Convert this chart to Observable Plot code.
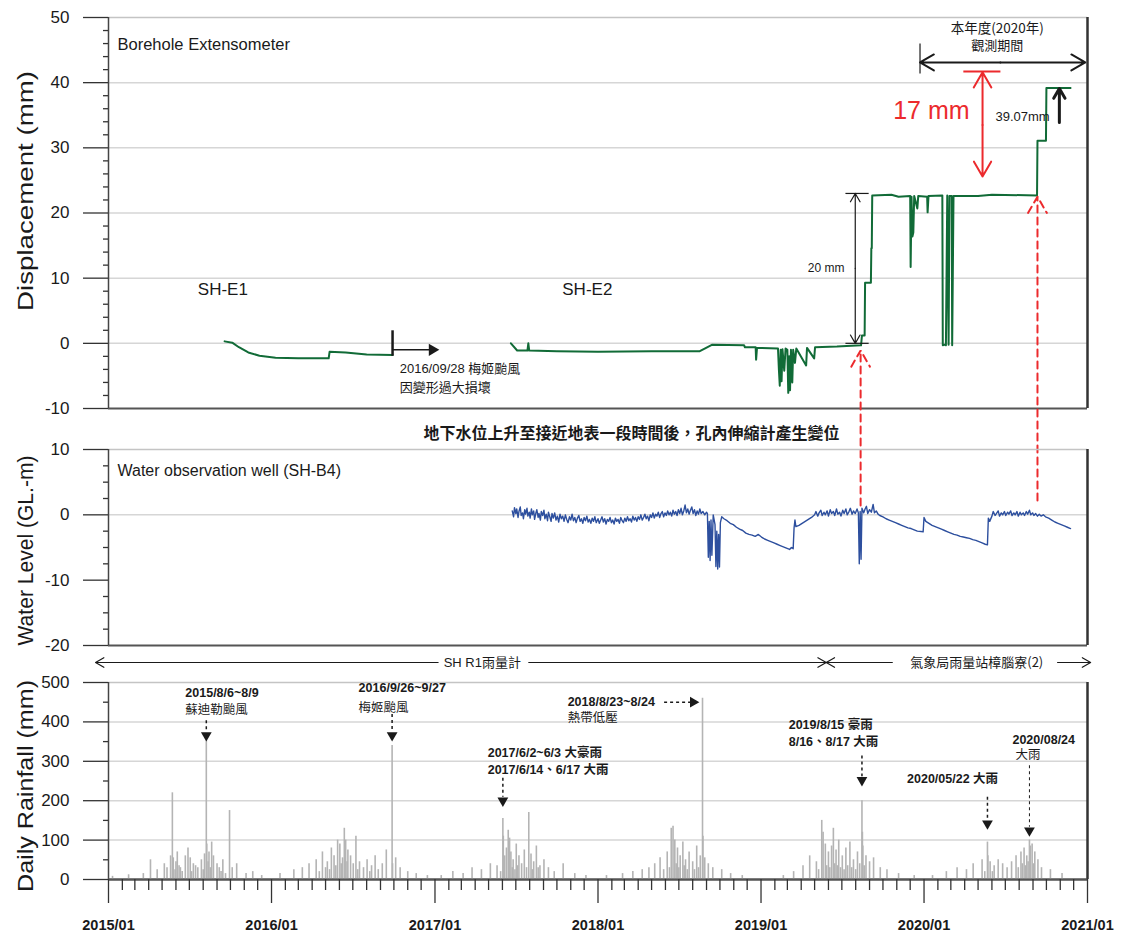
<!DOCTYPE html>
<html><head><meta charset="utf-8">
<script src="https://cdn.jsdelivr.net/npm/d3@7"></script>
<script src="https://cdn.jsdelivr.net/npm/@observablehq/plot@0.6"></script>
<style>
body{margin:0;background:#fff;}
#wrap{position:relative;width:1123px;height:940px;background:#fff;}
#wrap svg{position:absolute;left:0;top:0;}
</style></head><body><div id="wrap"></div>
<script>
// ---------------- DATA ----------------
// Borehole extensometer displacement (mm)
const dispE1 = [
 ["2015-09-18",0.3],["2015-10-05",0.1],["2015-10-20",-0.6],["2015-11-10",-1.4],["2015-12-05",-1.9],
 ["2016-01-10",-2.2],["2016-03-01",-2.3],["2016-05-08",-2.3],["2016-05-10",-1.3],["2016-06-15",-1.4],
 ["2016-08-01",-1.7],["2016-09-28",-1.8]
];
const dispE2 = [
 ["2017-06-20",0.0],["2017-07-04",-1.1],["2017-07-27",-1.1],["2017-07-29",0.0],["2017-07-31",-1.1],
 ["2017-10-01",-1.2],["2018-01-01",-1.3],["2018-05-01",-1.2],["2018-08-17",-1.2],["2018-09-14",-0.2],
 ["2018-11-24",-0.3],["2018-11-26",-0.6],["2018-12-20",-0.6],["2018-12-21",-2.5],["2018-12-23",-0.7],
 ["2019-02-08",-0.8],["2019-02-10",-4.0],["2019-02-12",-6.5],["2019-02-14",-1.0],["2019-02-16",-5.8],["2019-02-18",-0.9],
 ["2019-02-22",-4.2],["2019-02-25",-0.8],["2019-03-01",-1.0],["2019-03-03",-7.6],["2019-03-05",-2.0],["2019-03-07",-7.2],
 ["2019-03-09",-1.0],["2019-03-12",-6.0],["2019-03-14",-1.0],["2019-03-18",-3.0],["2019-03-21",-0.8],
 ["2019-04-12",-3.4],["2019-04-14",-0.7],["2019-04-30",-2.3],["2019-05-02",-0.6],["2019-06-20",-0.5],
 ["2019-08-13",-0.3],["2019-08-15",1.2],["2019-08-21",1.2],["2019-08-22",9.3],["2019-09-04",9.3],
 ["2019-09-05",14.6],["2019-09-06",14.6],["2019-09-07",22.7],["2019-10-20",22.8],["2019-11-05",22.5],
 ["2019-12-01",22.6],["2019-12-02",11.7],["2019-12-04",22.5],["2019-12-06",16.4],["2019-12-08",17.0],["2019-12-10",22.6],
 ["2019-12-17",20.7],["2019-12-19",22.6],["2020-01-08",22.5],["2020-01-09",20.1],["2020-01-11",22.6],
 ["2020-02-11",22.7],["2020-02-12",-0.3],["2020-02-16",-0.2],["2020-02-19",-0.3],["2020-02-22",22.7],
 ["2020-02-25",-0.2],["2020-02-27",22.6],["2020-03-03",22.6],["2020-03-04",-0.3],["2020-03-07",22.6],
 ["2020-05-01",22.6],["2020-06-01",22.8],["2020-09-10",22.7],["2020-09-11",31.1],["2020-09-30",31.1],
 ["2020-10-01",39.2],["2020-11-24",39.2]
];
// Water observation well SH-B4 (GL.-m)
const water2017 = [
 ["2017-06-23",0.6],["2017-06-26",-0.3],["2017-06-28",1.1],["2017-07-01",0.2],["2017-07-03",0.9],["2017-07-06",-0.4],
 ["2017-07-08",0.5],["2017-07-11",1.2],["2017-07-13",-0.1],["2017-07-16",0.3],["2017-07-18",-0.6],["2017-07-21",0.8],
 ["2017-07-23",0.1],["2017-07-26",1.0],["2017-07-28",-0.2],["2017-07-31",0.4],["2017-08-02",-0.5],["2017-08-05",0.9],
 ["2017-08-07",0.0],["2017-08-10",0.6],["2017-08-12",-0.7],["2017-08-15",0.3],["2017-08-17",0.8],["2017-08-20",-0.4],
 ["2017-08-22",0.2],["2017-08-25",-0.8],["2017-08-27",0.5],["2017-08-30",-0.1],["2017-09-02",0.7],["2017-09-04",-0.6],
 ["2017-09-07",0.1],["2017-09-10",-0.9],["2017-09-12",0.4],["2017-09-15",-0.3],["2017-09-18",-1.0],["2017-09-20",0.2],
 ["2017-09-23",-0.5],["2017-09-26",0.3],["2017-09-29",-0.8],["2017-10-02",-0.2],["2017-10-05",-1.1],["2017-10-08",0.1],
 ["2017-10-11",-0.6],["2017-10-14",-0.2],["2017-10-17",-1.0],["2017-10-20",0.0],["2017-10-23",-0.7],["2017-10-26",-1.2],
 ["2017-10-29",-0.3],["2017-11-01",-0.8],["2017-11-04",0.1],["2017-11-07",-0.9],["2017-11-10",-0.4],["2017-11-13",-1.2],
 ["2017-11-16",-0.5],["2017-11-19",-0.1],["2017-11-22",-1.0],["2017-11-25",-0.6],["2017-11-28",-1.3],["2017-12-01",-0.4],
 ["2017-12-04",-0.9],["2017-12-07",-0.2],["2017-12-10",-1.1],["2017-12-13",-0.7],["2017-12-16",-1.3],["2017-12-19",-0.5],
 ["2017-12-22",-1.0],["2017-12-25",-0.3],["2017-12-28",-1.2]
];
const water2018 = [
 ["2018-01-01",-0.6],["2018-01-04",-1.3],["2018-01-07",-0.8],["2018-01-10",-0.3],["2018-01-13",-1.1],["2018-01-16",-0.6],
 ["2018-01-19",-1.4],["2018-01-22",-0.7],["2018-01-25",-1.0],["2018-01-28",-0.4],["2018-01-31",-1.2],["2018-02-03",-0.8],
 ["2018-02-06",-1.4],["2018-02-09",-0.5],["2018-02-12",-1.0],["2018-02-15",-0.7],["2018-02-18",-1.3],["2018-02-21",-0.4],
 ["2018-02-24",-0.9],["2018-02-27",-1.2],["2018-03-02",-0.5],["2018-03-05",-1.0],["2018-03-08",-0.3],["2018-03-11",-0.9],
 ["2018-03-14",-0.6],["2018-03-17",-1.1],["2018-03-20",-0.2],["2018-03-23",-0.8],["2018-03-26",-0.4],["2018-03-29",-1.0],
 ["2018-04-01",-0.3],["2018-04-04",-0.7],["2018-04-07",0.0],["2018-04-10",-0.8],["2018-04-13",-0.4],["2018-04-16",0.1],
 ["2018-04-19",-0.6],["2018-04-22",-0.2],["2018-04-25",-0.9],["2018-04-28",0.0],["2018-05-01",-0.4],["2018-05-04",0.3],
 ["2018-05-07",-0.5],["2018-05-10",0.1],["2018-05-13",-0.2],["2018-05-16",0.4],["2018-05-19",-0.4],["2018-05-22",0.2],
 ["2018-05-25",0.5],["2018-05-28",-0.3],["2018-05-31",0.3],["2018-06-03",-0.1],["2018-06-06",0.6],["2018-06-09",0.0],
 ["2018-06-12",0.4],["2018-06-15",-0.2],["2018-06-18",0.7],["2018-06-21",0.1],["2018-06-24",0.5],["2018-06-27",-0.1],
 ["2018-06-30",0.8],["2018-07-03",0.2],["2018-07-06",1.0],["2018-07-09",0.0],["2018-07-12",0.6],["2018-07-15",1.5],
 ["2018-07-18",0.3],["2018-07-21",0.9],["2018-07-24",0.1],["2018-07-27",0.7],["2018-07-30",1.2],["2018-08-02",0.2],
 ["2018-08-05",0.8],["2018-08-08",-0.1],["2018-08-11",0.6],["2018-08-14",0.1],["2018-08-17",0.9],["2018-08-20",0.2],
 ["2018-08-24",0.5],["2018-08-28",0.0],["2018-09-01",0.4],["2018-09-03",0.2],["2018-09-05",-6.5],
 ["2018-09-07",-1.0],["2018-09-09",-7.0],["2018-09-11",-0.8],["2018-09-13",-6.2],["2018-09-16",0.0],["2018-09-20",-1.5],
 ["2018-09-22",-7.9],["2018-09-24",-2.5],["2018-09-26",-8.3],["2018-09-28",-3.0],["2018-09-30",-8.0],["2018-10-02",-1.2],
 ["2018-10-05",-0.3],["2018-10-10",-0.6],["2018-10-17",-0.9],["2018-10-24",-1.3],["2018-10-31",-1.5],["2018-11-07",-1.9],
 ["2018-11-14",-2.2],["2018-11-21",-2.4],["2018-11-28",-2.8],["2018-12-05",-3.0],["2018-12-12",-3.1],["2018-12-19",-3.3],
 ["2018-12-26",-3.0]
];
const water2019 = [
 ["2019-01-02",-3.4],["2019-01-09",-3.7],["2019-01-16",-3.9],["2019-01-23",-4.1],["2019-01-30",-4.3],["2019-02-06",-4.5],
 ["2019-02-13",-4.7],["2019-02-20",-4.9],["2019-02-27",-5.1],["2019-03-06",-5.3],["2019-03-10",-5.0],["2019-03-14",-5.2],
 ["2019-03-16",-2.0],["2019-03-18",-0.8],["2019-03-20",-1.8],["2019-03-27",-1.6],["2019-04-03",-1.3],["2019-04-10",-1.0],
 ["2019-04-17",-0.7],["2019-04-24",-0.4],["2019-05-01",0.0],["2019-05-04",0.5],["2019-05-08",-0.2],["2019-05-11",0.3],
 ["2019-05-15",0.7],["2019-05-18",-0.1],["2019-05-22",0.4],["2019-05-25",0.0],["2019-05-29",0.6],["2019-06-01",-0.2],
 ["2019-06-05",0.8],["2019-06-08",0.2],["2019-06-12",0.5],["2019-06-15",-0.1],["2019-06-19",0.9],["2019-06-22",0.1],
 ["2019-06-26",0.4],["2019-06-29",-0.2],["2019-07-03",0.7],["2019-07-06",0.2],["2019-07-10",0.9],["2019-07-13",0.0],
 ["2019-07-17",0.5],["2019-07-20",1.0],["2019-07-24",0.1],["2019-07-27",0.6],["2019-07-31",0.2],["2019-08-04",0.9],
 ["2019-08-07",0.3],["2019-08-09",-7.5],["2019-08-11",0.5],["2019-08-13",-6.8],["2019-08-15",1.0],["2019-08-19",0.3],
 ["2019-08-22",0.9],["2019-08-25",1.3],["2019-08-28",0.2],["2019-09-01",0.8],["2019-09-05",0.4],["2019-09-09",1.6],
 ["2019-09-12",0.3],["2019-09-16",0.6],["2019-09-20",0.1],["2019-09-24",-0.1],["2019-10-01",-0.3],
 ["2019-10-08",-0.6],["2019-10-15",-0.8],["2019-10-22",-1.0],["2019-10-29",-1.2],["2019-11-05",-1.4],["2019-11-12",-1.6],
 ["2019-11-19",-1.8],["2019-11-26",-2.0],["2019-12-03",-2.1],["2019-12-10",-2.3],["2019-12-17",-2.5],["2019-12-30",-2.6]
];
const water2020 = [
 ["2020-01-01",-0.4],["2020-01-05",-1.0],["2020-01-12",-1.3],["2020-01-19",-1.6],["2020-01-26",-1.8],["2020-02-02",-2.0],
 ["2020-02-09",-2.2],["2020-02-16",-2.4],["2020-02-23",-2.6],["2020-03-01",-2.8],["2020-03-08",-3.0],["2020-03-15",-3.1],
 ["2020-03-22",-3.3],["2020-03-29",-3.4],["2020-04-05",-3.5],["2020-04-12",-3.6],["2020-04-19",-3.8],["2020-04-26",-3.9],
 ["2020-05-03",-4.1],["2020-05-10",-4.3],["2020-05-17",-4.5],["2020-05-22",-4.6],["2020-05-24",-0.5],["2020-05-27",-1.0],
 ["2020-06-01",-0.2],["2020-06-04",0.5],["2020-06-08",-0.1],["2020-06-11",0.2],["2020-06-15",0.6],["2020-06-18",-0.2],
 ["2020-06-22",0.3],["2020-06-25",0.0],["2020-06-29",0.5],["2020-07-02",-0.1],["2020-07-06",0.4],["2020-07-09",0.1],
 ["2020-07-13",0.6],["2020-07-16",-0.1],["2020-07-20",0.3],["2020-07-23",0.0],["2020-07-27",0.5],["2020-07-30",-0.2],
 ["2020-08-03",0.4],["2020-08-06",0.0],["2020-08-10",0.3],["2020-08-13",-0.1],["2020-08-17",0.5],["2020-08-20",0.1],
 ["2020-08-24",0.7],["2020-08-27",0.0],["2020-08-31",0.3],["2020-09-03",-0.1],["2020-09-07",0.2],["2020-09-11",-0.2],
 ["2020-09-15",0.1],["2020-09-19",-0.2],["2020-09-24",0.0],
 ["2020-09-29",-0.3],["2020-10-06",-0.5],["2020-10-13",-0.8],["2020-10-20",-1.1],["2020-10-27",-1.3],["2020-11-03",-1.5],
 ["2020-11-10",-1.7],["2020-11-17",-1.9],["2020-11-24",-2.1]
];
// Daily rainfall (mm)
const rain2015 = [
 ["2015-01-10",8],["2015-02-15",12],["2015-03-20",15],["2015-04-05",50],["2015-04-20",25],["2015-05-06",40],["2015-05-12",30],
 ["2015-05-20",60],["2015-05-24",220],["2015-05-26",55],["2015-05-30",25],["2015-06-01",45],["2015-06-04",70],["2015-06-08",35],
 ["2015-06-11",30],["2015-06-15",20],["2015-06-22",60],["2015-06-28",80],["2015-07-03",55],["2015-07-06",20],["2015-07-10",40],
 ["2015-07-15",35],["2015-07-20",30],["2015-07-28",50],["2015-08-01",25],["2015-08-04",65],["2015-08-08",355],["2015-08-09",90],
 ["2015-08-12",45],["2015-08-14",70],["2015-08-17",30],["2015-08-20",95],["2015-08-24",60],["2015-09-01",40],["2015-09-06",30],
 ["2015-09-10",20],["2015-09-14",50],["2015-09-20",15],["2015-09-29",175],["2015-10-05",30],["2015-10-15",40],["2015-11-05",15],
 ["2015-11-20",20],["2015-12-10",10]
];
const rain2016 = [
 ["2016-01-20",15],["2016-02-20",25],["2016-03-10",30],["2016-03-25",40],["2016-04-10",50],["2016-04-17",20],["2016-04-24",70],
 ["2016-05-01",30],["2016-05-05",45],["2016-05-10",25],["2016-05-14",80],["2016-05-20",60],["2016-05-24",35],["2016-05-28",100],
 ["2016-06-02",90],["2016-06-05",40],["2016-06-08",55],["2016-06-12",130],["2016-06-15",100],["2016-06-18",45],["2016-06-20",75],
 ["2016-06-26",60],["2016-07-02",40],["2016-07-08",110],["2016-07-12",25],["2016-07-16",45],["2016-07-25",30],["2016-08-02",50],
 ["2016-08-08",20],["2016-08-12",35],["2016-08-20",60],["2016-08-27",25],["2016-09-05",40],["2016-09-14",75],["2016-09-27",340],
 ["2016-09-28",40],["2016-10-05",55],["2016-10-15",30],["2016-11-01",20],["2016-11-20",15],["2016-12-15",10]
];
const rain2017 = [
 ["2017-01-15",10],["2017-02-10",20],["2017-03-05",15],["2017-03-25",30],["2017-04-15",25],["2017-05-05",40],["2017-05-20",35],
 ["2017-05-28",20],["2017-06-02",155],["2017-06-03",110],["2017-06-06",60],["2017-06-10",80],["2017-06-14",125],["2017-06-17",105],
 ["2017-06-20",70],["2017-06-23",30],["2017-06-25",50],["2017-06-29",25],["2017-07-02",90],["2017-07-05",35],["2017-07-08",60],
 ["2017-07-14",40],["2017-07-20",75],["2017-07-25",30],["2017-07-30",170],["2017-08-04",65],["2017-08-07",25],["2017-08-10",45],
 ["2017-08-16",85],["2017-08-20",30],["2017-08-24",35],["2017-09-02",50],["2017-09-12",30],["2017-09-25",20],["2017-10-15",40],
 ["2017-11-10",15],["2017-12-05",10]
];
const rain2018 = [
 ["2018-01-20",10],["2018-02-25",15],["2018-03-20",20],["2018-04-10",25],["2018-04-25",30],["2018-05-08",40],["2018-05-20",55],
 ["2018-05-28",25],["2018-06-05",70],["2018-06-10",30],["2018-06-14",130],["2018-06-18",135],["2018-06-22",100],["2018-06-25",40],
 ["2018-06-28",80],["2018-07-01",30],["2018-07-04",60],["2018-07-10",95],["2018-07-13",35],["2018-07-16",50],["2018-07-20",25],
 ["2018-07-24",70],["2018-08-01",45],["2018-08-05",25],["2018-08-10",85],["2018-08-14",30],["2018-08-18",60],["2018-08-23",460],
 ["2018-08-24",110],["2018-08-28",55],["2018-09-05",40],["2018-09-15",30],["2018-10-05",25],["2018-10-25",15],["2018-11-20",10]
];
const rain2019 = [
 ["2019-02-20",10],["2019-03-15",20],["2019-04-05",35],["2019-04-20",60],["2019-05-05",45],["2019-05-10",25],["2019-05-17",150],
 ["2019-05-20",120],["2019-05-25",90],["2019-05-28",35],["2019-06-01",70],["2019-06-04",30],["2019-06-08",85],["2019-06-12",130],
 ["2019-06-15",40],["2019-06-18",75],["2019-06-21",35],["2019-06-24",100],["2019-06-28",30],["2019-07-02",60],["2019-07-06",25],
 ["2019-07-10",80],["2019-07-14",35],["2019-07-19",95],["2019-07-23",30],["2019-07-27",50],["2019-08-01",25],["2019-08-05",70],
 ["2019-08-10",40],["2019-08-15",200],["2019-08-16",120],["2019-08-17",85],["2019-08-20",35],["2019-08-24",60],["2019-09-01",45],
 ["2019-09-10",55],["2019-09-25",30],["2019-10-10",25],["2019-11-05",15],["2019-12-10",10]
];
const rain2020 = [
 ["2020-01-20",10],["2020-02-20",20],["2020-03-15",30],["2020-04-05",25],["2020-04-20",40],["2020-05-10",50],["2020-05-16",20],
 ["2020-05-22",95],["2020-05-23",60],["2020-05-28",45],["2020-06-02",20],["2020-06-06",35],["2020-06-15",50],["2020-06-25",40],
 ["2020-07-05",30],["2020-07-15",45],["2020-07-25",60],["2020-07-30",30],["2020-08-05",70],["2020-08-08",40],["2020-08-12",80],
 ["2020-08-15",35],["2020-08-18",60],["2020-08-21",45],["2020-08-24",100],["2020-08-26",85],["2020-08-30",90],["2020-09-02",40],
 ["2020-09-05",70],["2020-09-12",50],["2020-09-20",30],["2020-10-10",25],["2020-11-05",15]
];
// Axis ticks and labels
const yearLabels = ["2015/01","2016/01","2017/01","2018/01","2019/01","2020/01","2021/01"];
const dispTicks = [-10,0,10,20,30,40,50];
const waterTicks = [-20,-10,0,10];
const rainTicks = [0,100,200,300,400,500];

// ---------------- HELPERS ----------------
const parse = d => new Date(d + "T00:00:00Z");
const rows = arr => arr.map(([d, v]) => ({date: parse(d), value: v}));
const W = 1123, H = 940;
const xDomain = [parse("2015-01-01"), parse("2021-01-01")];
const LAT = "'Liberation Sans', Arial, sans-serif";
const CJK = "'Noto Sans CJK TC', 'Noto Sans CJK SC', sans-serif";
const MIX = "'Liberation Sans', 'Noto Sans CJK TC', sans-serif";
const GREEN = "#116b37", BLUE = "#2d4f9e", RED = "#ec2a2d", RAIN = "#b4b4b4", INK = "#1a1a1a";

function txt(str, date, v, opts = {}) {
  return Plot.text([{x: parse(date), y: v, t: str}], {x: "x", y: "y", text: "t", fill: INK, fontFamily: CJK, fontSize: 13, textAnchor: "start", lineAnchor: "middle", ...opts});
}
function seg(d1, v1, d2, v2, opts = {}) {
  return Plot.link([{x1: parse(d1), y1: v1, x2: parse(d2), y2: v2}], {x1: "x1", y1: "y1", x2: "x2", y2: "y2", stroke: INK, strokeWidth: 1.2, ...opts});
}
function arw(d1, v1, d2, v2, opts = {}) {
  return Plot.arrow([{x1: parse(d1), y1: v1, x2: parse(d2), y2: v2}], {x1: "x1", y1: "y1", x2: "x2", y2: "y2", stroke: INK, strokeWidth: 1.2, headLength: 10, headAngle: 60, ...opts});
}
function tri(date, v, rot = 180, opts = {}) {
  return Plot.dot([{x: parse(date), y: v}], {x: "x", y: "y", symbol: "triangle", rotate: rot, r: 4, fill: INK, stroke: "none", ...opts});
}
function frame(yDomain, grid) {
  const [y0, y1] = yDomain;
  return [
    Plot.ruleY(grid, {stroke: "#d6d6d6", strokeWidth: 1.5}),
    Plot.ruleY([y1], {stroke: "#c4c4c4", strokeWidth: 1.5}),
    Plot.ruleY([y0], {stroke: "#555", strokeWidth: 2}),
    Plot.ruleX([xDomain[0]], {stroke: "#444", strokeWidth: 1.5}),
    Plot.ruleX([xDomain[1]], {stroke: "#333", strokeWidth: 2.5})
  ];
}
function yAxes(major, minor, title, shift) {
  return [
    Plot.axisY({ticks: major, tickSize: 25, tickPadding: 14, tickFormat: d => String(d), label: null, stroke: "#333", strokeWidth: 1.3, fontSize: 17, fontFamily: LAT}),
    Plot.axisY({ticks: minor, tickSize: 5, tickFormat: () => "", label: null, stroke: "#333", strokeWidth: 1.3}),
    Plot.text([title], {text: d => d, frameAnchor: "left", textAnchor: "middle", lineAnchor: "middle", dx: -83, dy: shift, rotate: -90, fontSize: 22, fontFamily: LAT, fill: INK})
  ];
}
function panel(top, bottom, yDomain, marks) {
  return Plot.plot({
    width: W, height: H,
    marginLeft: 108, marginRight: 36, marginTop: top, marginBottom: H - bottom,
    x: {type: "utc", domain: xDomain, axis: null},
    y: {domain: yDomain, axis: null},
    style: {background: "transparent", overflow: "visible", fontFamily: LAT, color: INK},
    marks
  });
}
const minorOf = (lo, hi, step, major) => d3.range(lo, hi + step / 2, step).filter(v => !major.includes(v));

// ---------------- PANEL 1: Displacement ----------------
const p1 = panel(17, 408, [-10, 50], [
  ...frame([-10, 50], [0, 10, 20, 30, 40]),
  ...yAxes(dispTicks, minorOf(-10, 50, 2, dispTicks), "Displacement (mm)", -22),
  Plot.line(rows(dispE1), {x: "date", y: "value", stroke: GREEN, strokeWidth: 2}),
  Plot.line(rows(dispE2), {x: "date", y: "value", stroke: GREEN, strokeWidth: 2}),
  Plot.text(["Borehole Extensometer"], {text: d => d, frameAnchor: "top-left", dx: 9, dy: 27, fontSize: 16.5, fontFamily: LAT, fill: INK, textAnchor: "start", lineAnchor: "middle"}),
  txt("SH-E1", "2015-07-20", 8.3, {fontSize: 17, fontFamily: LAT}),
  txt("SH-E2", "2017-10-13", 8.3, {fontSize: 17, fontFamily: LAT}),
  // 2016/09/28 damage marker
  seg("2016-09-28", 2.0, "2016-09-28", -1.9, {strokeWidth: 2.5}),
  seg("2016-09-28", -1.0, "2016-12-22", -1.0, {strokeWidth: 1.5}),
  tri("2016-12-26", -1.0, 90, {r: 4.5}),
  txt("2016/09/28 梅姬颱風", "2016-10-14", -3.9, {fontSize: 13, fontFamily: MIX}),
  txt("因變形過大損壞", "2016-10-14", -6.9, {fontSize: 13}),
  // 20 mm
  seg("2019-07-09", 23.0, "2019-08-30", 23.0),
  seg("2019-07-09", 0.0, "2019-08-30", 0.0),
  arw("2019-07-31", 11.5, "2019-07-31", 23.0, {headLength: 12}),
  arw("2019-07-31", 11.5, "2019-07-31", 0.0, {headLength: 12}),
  txt("20 mm", "2019-07-07", 11.6, {fontSize: 12, fontFamily: LAT, textAnchor: "end"}),
  // observation period 2020
  seg("2019-12-23", 46.0, "2019-12-23", 41.4),
  arw("2020-06-20", 43.1, "2019-12-23", 43.1, {strokeWidth: 2, headLength: 12}),
  arw("2020-06-20", 43.1, "2020-12-27", 43.1, {strokeWidth: 2, headLength: 12}),
  txt("本年度(2020年)", "2020-06-13", 48.3, {fontSize: 13.5, textAnchor: "middle"}),
  txt("觀測期間", "2020-06-13", 45.6, {fontSize: 13, textAnchor: "middle"}),
  // 17 mm
  seg("2020-03-29", 41.7, "2020-06-20", 41.7, {stroke: RED, strokeWidth: 2}),
  arw("2020-05-11", 33.5, "2020-05-11", 41.6, {stroke: RED, strokeWidth: 2, headLength: 14}),
  arw("2020-05-11", 33.5, "2020-05-11", 25.6, {stroke: RED, strokeWidth: 2, headLength: 14}),
  txt("17 mm", "2020-04-12", 35.7, {fontSize: 25, fontFamily: LAT, fill: RED, textAnchor: "end"}),
  // 39.07 mm
  txt("39.07mm", "2020-06-09", 34.7, {fontSize: 13, fontFamily: LAT}),
  arw("2020-10-30", 33.9, "2020-10-30", 39.1, {strokeWidth: 3, headLength: 10}),
  // red dashed arrows from water level to displacement
  arw("2019-08-12", -24.9, "2019-08-12", -1.1, {stroke: RED, strokeWidth: 2, strokeDasharray: "7,5", headLength: 14}),
  arw("2020-09-11", -24.1, "2020-09-11", 22.5, {stroke: RED, strokeWidth: 2, strokeDasharray: "7,5", headLength: 14})
]);

// ---------------- PANEL 2: Water level ----------------
const waterAll = [...water2017, ...water2018, ...water2019, ...water2020];
const p2 = panel(449, 645, [-20, 10], [
  ...frame([-20, 10], [0]),
  ...yAxes(waterTicks, minorOf(-20, 10, 2.5, waterTicks), "Water Level (GL.-m)", 3),
  Plot.line(rows(waterAll), {x: "date", y: "value", stroke: BLUE, strokeWidth: 1.4}),
  Plot.text(["Water observation well (SH-B4)"], {text: d => d, frameAnchor: "top-left", dx: 9, dy: 21, fontSize: 16, fontFamily: LAT, fill: INK, textAnchor: "start", lineAnchor: "middle"}),
  txt("地下水位上升至接近地表一段時間後，孔內伸縮計產生變位", "2018-03-17", 12.45, {fontSize: 16, fontWeight: "bold", textAnchor: "middle"})
]);

// ---------------- PANEL 3: Rainfall ----------------
const rainAll = [...rain2015, ...rain2016, ...rain2017, ...rain2018, ...rain2019, ...rain2020];
const yearTicks = yearLabels.map(s => parse(s.replace("/", "-") + "-01"));
const monthTicks = d3.utcMonth.range(xDomain[0], xDomain[1]).filter(d => d.getUTCMonth() !== 0);
const dash = {strokeDasharray: "3,3", strokeWidth: 1.5};
const B = {fontFamily: MIX, fontWeight: "bold", fontSize: 12.5};
const p3 = panel(682, 879, [0, 500], [
  ...frame([0, 500], [100, 200, 300, 400]),
  ...yAxes(rainTicks, minorOf(0, 500, 50, rainTicks), "Daily Rainfall (mm)", 5),
  Plot.ruleX(rows(rainAll), {x: "date", y: "value", stroke: RAIN, strokeWidth: 1.6}),
  Plot.ruleY([0], {stroke: "#555", strokeWidth: 2}),
  Plot.axisX({ticks: yearTicks, tickSize: 24, tickPadding: 16, tickFormat: (d, i) => yearLabels[i], label: null, stroke: "#333", strokeWidth: 1.3, fontSize: 14.5, fontWeight: "bold", fontFamily: LAT}),
  Plot.axisX({ticks: monthTicks, tickSize: 11, tickFormat: () => "", label: null, stroke: "#333", strokeWidth: 1.3}),
  // gauge periods
  arw("2017-01-08", 550.8, "2014-12-03", 550.8, {headLength: 12}),
  txt("SH R1雨量計", "2017-04-17", 550.8, {textAnchor: "middle", fontSize: 13, fontFamily: MIX}),
  arw("2017-07-30", 550.8, "2019-05-27", 550.8, {headLength: 12}),
  arw("2019-10-22", 550.8, "2019-05-27", 550.8, {headLength: 12}),
  txt("氣象局雨量站樟腦寮(2)", "2020-04-28", 550.8, {textAnchor: "middle", fontSize: 13}),
  arw("2020-10-26", 550.8, "2021-01-08", 550.8, {headLength: 12}),
  // event annotations
  txt("2015/8/6~8/9", "2015-06-22", 474, B),
  txt("蘇迪勒颱風", "2015-06-22", 429, {fontSize: 12.5}),
  seg("2015-08-08", 404, "2015-08-08", 375, dash),
  tri("2015-08-08", 366),
  txt("2016/9/26~9/27", "2016-07-14", 485, B),
  txt("梅姬颱風", "2016-07-14", 435, {fontSize: 12.5}),
  seg("2016-09-27", 420, "2016-09-27", 375, dash),
  tri("2016-09-27", 366),
  txt("2018/8/23~8/24", "2017-10-25", 450, B),
  seg("2018-05-29", 450, "2018-07-26", 450, dash),
  tri("2018-08-02", 450, 90),
  txt("熱帶低壓", "2017-10-25", 409, {fontSize: 12.5}),
  txt("2017/6/2~6/3 大豪雨", "2017-04-29", 322, B),
  txt("2017/6/14、6/17 大雨", "2017-04-29", 277, B),
  seg("2017-06-02", 258, "2017-06-02", 210, dash),
  tri("2017-06-02", 200),
  txt("2019/8/15 豪雨", "2019-03-04", 393, B),
  txt("8/16、8/17 大雨", "2019-03-04", 348, B),
  seg("2019-08-15", 315, "2019-08-15", 262, dash),
  tri("2019-08-15", 252),
  txt("2020/05/22 大雨", "2019-11-24", 254, B),
  seg("2020-05-22", 210, "2020-05-22", 152, dash),
  tri("2020-05-22", 142),
  txt("2020/08/24", "2020-07-17", 355, B),
  txt("大雨", "2020-07-24", 315, {fontSize: 12.5}),
  seg("2020-08-24", 290, "2020-08-24", 134, {strokeDasharray: "3,3", strokeWidth: 1}),
  tri("2020-08-24", 124)
]);

const wrap = document.getElementById("wrap");
wrap.append(p1, p2, p3);
// stretch the axis titles to the width they have in the original figure
const titleLength = {"Displacement (mm)": 240, "Water Level (GL.-m)": 190, "Daily Rainfall (mm)": 212};
wrap.querySelectorAll("text").forEach(t => {
  const L = titleLength[t.textContent];
  if (L) { t.setAttribute("textLength", L); t.setAttribute("lengthAdjust", "spacingAndGlyphs"); }
});
</script>
</body></html>
